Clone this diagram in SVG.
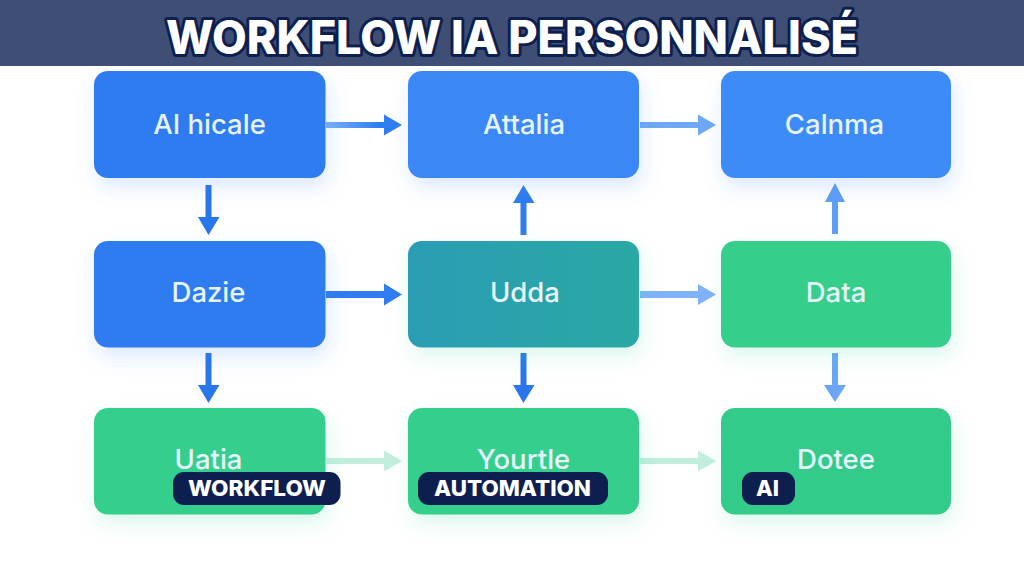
<svg xmlns="http://www.w3.org/2000/svg" width="1024" height="576" viewBox="0 0 1024 576">
<defs>
<filter id="sb" x="-20%" y="-30%" width="140%" height="170%"><feDropShadow dx="3" dy="9" stdDeviation="10" flood-color="#3b82f6" flood-opacity="0.18"/></filter>
<filter id="sg" x="-20%" y="-30%" width="140%" height="170%"><feDropShadow dx="3" dy="9" stdDeviation="10" flood-color="#34d399" flood-opacity="0.18"/></filter>
<linearGradient id="h1" gradientUnits="userSpaceOnUse" x1="326" y1="0" x2="402" y2="0"><stop offset="0" stop-color="#7fb0f8"/><stop offset="0.7" stop-color="#2f7df0"/></linearGradient>
<linearGradient id="teal" x1="0" y1="0" x2="1" y2="0"><stop offset="0" stop-color="#2a9db4"/><stop offset="1" stop-color="#29a8a4"/></linearGradient>
</defs>
<style>
.n{font:500 27.500px "Inter","Liberation Sans",sans-serif;fill:#e6f4fb;text-anchor:middle}
.t{font:800 46px "Inter","Liberation Sans",sans-serif;fill:#fff;stroke:#0d1f4f;stroke-width:6px;paint-order:stroke;stroke-linejoin:round;text-anchor:middle}
.p{fill:#0d1f4f}
.l{font:800 22px "Inter","Liberation Sans",sans-serif;fill:#fff;text-anchor:middle}
</style>
<rect width="1024" height="576" fill="#fff"/>
<g id="header"><rect width="1024" height="66" fill="#3f4e75"/><text class="t" x="512" y="53.500" textLength="692" lengthAdjust="spacingAndGlyphs">WORKFLOW IA PERSONNALISÉ</text></g>
<g id="connectors">
<path d="M326 122H384V114.500L402 125L384 135.500V128H326Z" fill="url(#h1)"/>
<path d="M640 122H698V114.500L716 125L698 135.500V128H640Z" fill="#6ea8f7"/>
<path d="M326 291H384V283.500L402 294.500L384 305.500V298H326Z" fill="#2f7df0"/>
<path d="M640 291H698V284L716 294.500L698 305V298H640Z" fill="#80b2f8"/>
<path d="M326 458H384V450.500L402 461L384 471.500V464H326Z" fill="#c2eedd"/>
<path d="M640 458H698V450.500L716 461L698 471.500V464H640Z" fill="#c2eedd"/>
<path d="M205.500 185V217H198L208.500 235L219.500 217H211.500V185Z" fill="#2a76ec"/>
<path d="M205.500 353V385H198L208.500 403L219.500 385H211.500V353Z" fill="#2a76ec"/>
<path d="M520.500 353V385H513L523.500 403L534.500 385H526.500V353Z" fill="#2a76ec"/>
<path d="M832 353V385H824L835 402L846 385H838V353Z" fill="#6aa5f6"/>
<path d="M520.500 235V203H513L523.500 185L534.500 203H526.500V235Z" fill="#2f7df0"/>
<path d="M832 234V202H825L835 183L845 202H838V234Z" fill="#5f9ef5"/>
</g>
<g id="node-1"><rect x="94" y="71" width="231.500" height="107" rx="14" fill="#2f7bf0" filter="url(#sb)"/><text class="n" x="209.500" y="134">AI hicale</text></g>
<g id="node-2"><rect x="408" y="71" width="231" height="107" rx="14" fill="#3a87f5" filter="url(#sb)"/><text class="n" x="524" y="134">Attalia</text></g>
<g id="node-3"><rect x="721" y="71" width="230" height="107" rx="14" fill="#3d8bf6" filter="url(#sb)"/><text class="n" x="834.500" y="134">Calnma</text></g>
<g id="node-4"><rect x="94" y="241" width="231.500" height="106.500" rx="14" fill="#2f7bf0" filter="url(#sb)"/><text class="n" x="208.500" y="302">Dazie</text></g>
<g id="node-5"><rect x="408" y="241" width="231" height="106.500" rx="14" fill="url(#teal)" filter="url(#sg)"/><text class="n" x="525" y="302">Udda</text></g>
<g id="node-6"><rect x="721" y="241" width="230" height="106.500" rx="14" fill="#35cf8b" filter="url(#sg)"/><text class="n" x="836" y="302">Data</text></g>
<g id="node-7"><rect x="94" y="408" width="231.500" height="106.500" rx="14" fill="#35cf8d" filter="url(#sg)"/><text class="n" x="208.500" y="469">Uatia</text></g>
<g id="node-8"><rect x="408" y="408" width="231" height="106.500" rx="14" fill="#35cf8d" filter="url(#sg)"/><text class="n" x="523.500" y="469">Yourtle</text></g>
<g id="node-9"><rect x="721" y="408" width="230" height="106.500" rx="14" fill="#33cb8a" filter="url(#sg)"/><text class="n" x="836" y="469">Dotee</text></g>
<g id="tag-workflow"><rect class="p" x="173" y="472" width="167.500" height="33" rx="11"/><text class="l" x="257" y="496" textLength="138" lengthAdjust="spacingAndGlyphs">WORKFLOW</text></g>
<g id="tag-automation"><rect class="p" x="418" y="472" width="190" height="33" rx="11"/><text class="l" x="512.500" y="496" textLength="157" lengthAdjust="spacingAndGlyphs">AUTOMATION</text></g>
<g id="tag-ai"><rect class="p" x="742" y="472" width="53" height="33" rx="11"/><text class="l" x="767.500" y="496" textLength="23" lengthAdjust="spacingAndGlyphs">AI</text></g>
</svg>
